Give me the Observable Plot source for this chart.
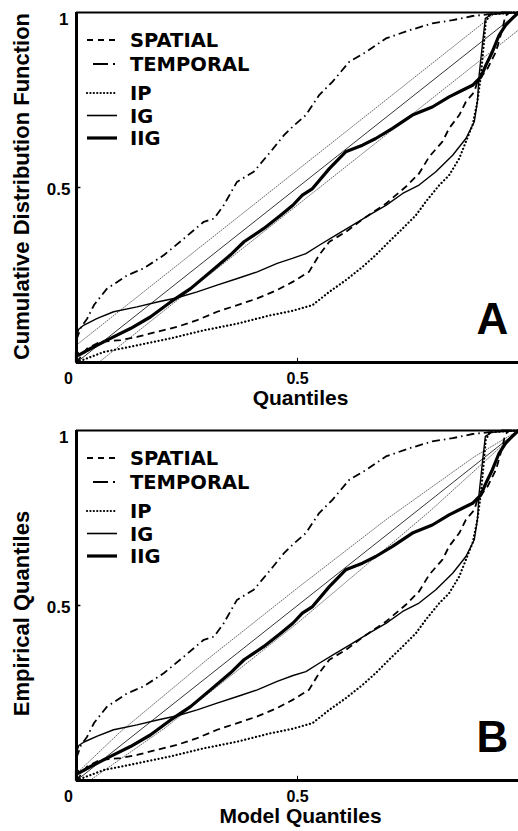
<!DOCTYPE html>
<html><head><meta charset="utf-8">
<script src="https://cdn.jsdelivr.net/npm/d3@7"></script>
<script src="https://cdn.jsdelivr.net/npm/@observablehq/plot@0.6"></script>
<style>body{margin:0;background:#fff;} #chart svg{display:block;}</style>
</head><body><div id="chart"></div>
<script>
// ---------- data ----------
const seriesNames = ["SPATIAL", "TEMPORAL", "IP", "IG", "IIG"];
const xTicks = [0, 0.5];
const yTicks = [0.5, 1];

const spatialA = [[0,0],[0.024,0.04],[0.054,0.059],[0.1,0.064],[0.137,0.073],[0.183,0.088],[0.228,0.102],[0.273,0.121],[0.318,0.145],[0.364,0.164],[0.409,0.183],[0.454,0.207],[0.49,0.231],[0.526,0.259],[0.549,0.307],[0.572,0.345],[0.609,0.373],[0.655,0.416],[0.7,0.454],[0.745,0.502],[0.775,0.54],[0.798,0.588],[0.828,0.631],[0.843,0.669],[0.866,0.707],[0.881,0.745],[0.9,0.773],[0.907,0.802],[0.93,0.84],[0.949,0.888],[0.964,0.954],[0.97,0.99],[0.98,1],[1,1]];
const temporalA = [[0,0.065],[0.01,0.1],[0.024,0.125],[0.04,0.165],[0.069,0.211],[0.115,0.249],[0.152,0.269],[0.198,0.307],[0.243,0.354],[0.288,0.402],[0.311,0.411],[0.333,0.449],[0.363,0.516],[0.401,0.545],[0.439,0.602],[0.469,0.649],[0.49,0.675],[0.519,0.707],[0.549,0.764],[0.579,0.802],[0.617,0.859],[0.655,0.887],[0.7,0.926],[0.753,0.949],[0.805,0.969],[0.851,0.978],[0.896,0.99],[0.926,0.994],[0.96,1],[1,1]];
const ipA = [[0,0],[0.02,0.01],[0.062,0.03],[0.137,0.049],[0.213,0.069],[0.288,0.092],[0.364,0.111],[0.439,0.135],[0.49,0.148],[0.534,0.164],[0.572,0.202],[0.609,0.235],[0.647,0.273],[0.677,0.307],[0.707,0.345],[0.738,0.383],[0.768,0.421],[0.79,0.459],[0.821,0.507],[0.843,0.535],[0.866,0.583],[0.881,0.631],[0.896,0.678],[0.907,0.745],[0.915,0.821],[0.922,0.916],[0.926,0.973],[0.935,0.995],[1,1]];
const igA = [[0,0.075],[0.005,0.095],[0.017,0.107],[0.047,0.126],[0.084,0.145],[0.137,0.159],[0.183,0.173],[0.228,0.185],[0.273,0.202],[0.318,0.221],[0.364,0.24],[0.409,0.259],[0.454,0.283],[0.49,0.298],[0.519,0.311],[0.549,0.335],[0.587,0.364],[0.624,0.392],[0.662,0.421],[0.7,0.449],[0.738,0.483],[0.775,0.507],[0.813,0.545],[0.851,0.592],[0.881,0.64],[0.9,0.688],[0.907,0.745],[0.911,0.821],[0.919,0.916],[0.925,0.983],[0.94,0.995],[1,1]];
const iigA = [[0,0],[0,0.03],[0.005,0.021],[0.032,0.04],[0.077,0.069],[0.122,0.097],[0.167,0.13],[0.213,0.173],[0.258,0.211],[0.303,0.259],[0.348,0.307],[0.379,0.345],[0.424,0.383],[0.462,0.421],[0.49,0.45],[0.511,0.478],[0.534,0.497],[0.572,0.554],[0.609,0.602],[0.647,0.621],[0.677,0.64],[0.715,0.669],[0.76,0.707],[0.805,0.73],[0.843,0.759],[0.873,0.778],[0.896,0.792],[0.915,0.816],[0.926,0.849],[0.941,0.888],[0.956,0.935],[0.971,0.964],[0.986,0.983],[1,1]];

const spatialB = spatialA;
const temporalB = temporalA;
const ipB = ipA;
const igB = [[0,0.08],[0.005,0.1],[0.017,0.11],[0.047,0.127],[0.084,0.145],[0.137,0.159],[0.183,0.173],[0.228,0.185],[0.273,0.202],[0.318,0.221],[0.364,0.24],[0.409,0.259],[0.454,0.283],[0.49,0.3],[0.519,0.311],[0.549,0.335],[0.587,0.364],[0.624,0.392],[0.662,0.421],[0.7,0.449],[0.738,0.483],[0.775,0.507],[0.813,0.545],[0.851,0.592],[0.881,0.64],[0.9,0.688],[0.907,0.745],[0.911,0.821],[0.919,0.916],[0.925,0.983],[0.94,0.995],[1,1]];
const iigB = iigA;

const diagonal = [[0,0],[1,1]];
const upperA = [[0,0.05],[0.95,1]];
const lowerA = [[0.05,0],[1,0.95]];
const upperB = [[0,0.02],[0.1,0.14],[0.3,0.35],[0.5,0.55],[0.7,0.745],[0.9,0.925],[0.96,0.97],[1,1]];
const lowerB = [[0.03,0],[0.2,0.15],[0.5,0.45],[0.8,0.77],[0.97,0.965],[1,1]];

// ---------- styles ----------
const lineStyle = {
  SPATIAL:  {strokeWidth: 1.8, strokeDasharray: "7,4.5", strokeLinecap: "butt"},
  TEMPORAL: {strokeWidth: 1.8, strokeDasharray: "8,4,1.5,4", strokeLinecap: "butt"},
  IP:       {strokeWidth: 2.2, strokeDasharray: "0.1,3.6", strokeLinecap: "round"},
  IG:       {strokeWidth: 1.4, strokeDasharray: null, strokeLinecap: "butt"},
  IIG:      {strokeWidth: 3.2, strokeDasharray: null, strokeLinecap: "butt"}
};
const titleFont = "'Liberation Sans', Arial, sans-serif";
const legendFont = "'DejaVu Sans', sans-serif";

function legendMark(marginLeft, marginTop) {
  const rows = [28, 52, 81, 103.5, 126];
  return () => {
    const g = d3.create("svg:g").attr("text-anchor", "start");
    seriesNames.forEach((name, i) => {
      const y = marginTop + rows[i];
      const st = lineStyle[name];
      const x1 = name === "TEMPORAL" ? marginLeft + 17 : marginLeft + 11;
      const ln = g.append("line")
        .attr("x1", x1).attr("x2", marginLeft + 41).attr("y1", y).attr("y2", y)
        .attr("stroke", "black").attr("stroke-width", st.strokeWidth)
        .attr("stroke-linecap", st.strokeLinecap);
      if (name === "TEMPORAL") ln.attr("stroke-dasharray", "15,5,2,10");
      else if (name === "SPATIAL") ln.attr("stroke-dasharray", "6,5");
      else if (st.strokeDasharray) ln.attr("stroke-dasharray", "0.1,3.3");
      if (name === "IG") ln.attr("stroke-width", 1.6);
      g.append("text").attr("x", marginLeft + 54).attr("y", y + 7)
        .attr("text-anchor", "start")
        .attr("font-family", legendFont).attr("font-weight", "bold")
        .attr("font-size", 19.5).attr("fill", "black").text(name);
    });
    return g.node();
  };
}

function panel({height, marginTop, marginBottom, letter, xTitle, yTitle, curves, upper, lower, yTitleDy}) {
  const marginLeft = 76;
  const curveMarks = seriesNames.map((name, i) =>
    Plot.line(curves[i], {x: d => d[0], y: d => d[1], stroke: "black",
      strokeWidth: lineStyle[name].strokeWidth,
      strokeDasharray: lineStyle[name].strokeDasharray,
      strokeLinecap: lineStyle[name].strokeLinecap,
      strokeLinejoin: "round"}));
  return Plot.plot({
    width: 518, height, marginLeft, marginRight: 0, marginTop, marginBottom,
    x: {domain: [0, 1], axis: null},
    y: {domain: [0, 1], axis: null},
    style: {background: "white", overflow: "visible"},
    marks: [
      Plot.line(upper, {x: d => d[0], y: d => d[1], stroke: "#444", strokeWidth: 0.8, strokeDasharray: "1,1.6"}),
      Plot.line(lower, {x: d => d[0], y: d => d[1], stroke: "#444", strokeWidth: 0.8, strokeDasharray: "1,1.6"}),
      Plot.line(diagonal, {x: d => d[0], y: d => d[1], stroke: "black", strokeWidth: 0.8}),
      ...curveMarks,
      Plot.ruleY([1], {stroke: "black", strokeWidth: 2}),
      Plot.ruleY([0], {stroke: "black", strokeWidth: 3}),
      Plot.ruleX([0], {stroke: "black", strokeWidth: 3}),
      Plot.ruleX([0.5], {y1: 0, y2: 0.012, stroke: "black", strokeWidth: 1}),
      Plot.ruleY([0.5], {x1: 0, x2: 0.01, stroke: "black", strokeWidth: 1.5}),
      // tick labels
      Plot.text([xTicks[0]], {x: d => d, y: 0, text: d => String(d), dx: -8, dy: 16,
        fontFamily: titleFont, fontWeight: "bold", fontSize: 16, textAnchor: "middle"}),
      Plot.text([xTicks[1]], {x: d => d, y: 0, text: d => String(d), dy: 16,
        fontFamily: titleFont, fontWeight: "bold", fontSize: 16, textAnchor: "middle"}),
      Plot.text([yTicks[0]], {x: 0, y: d => d, text: d => String(d), dx: -6, dy: 2,
        fontFamily: titleFont, fontWeight: "bold", fontSize: 17, textAnchor: "end"}),
      Plot.text([yTicks[1]], {x: 0, y: d => d, text: d => String(d), dx: -8, dy: 7.5,
        fontFamily: titleFont, fontWeight: "bold", fontSize: 17, textAnchor: "end"}),
      // axis titles
      Plot.text([xTitle], {frameAnchor: "bottom", text: d => d, dx: 3, dy: 42,
        fontFamily: titleFont, fontWeight: "bold", fontSize: 21, textAnchor: "middle"}),
      Plot.text([yTitle], {frameAnchor: "left", text: d => d, dx: -55, dy: yTitleDy, rotate: -90,
        fontFamily: titleFont, fontWeight: "bold", fontSize: 22, textAnchor: "middle"}),
      // panel letter
      Plot.text([letter], {frameAnchor: "bottom-right", text: d => d, dx: -26, dy: -29,
        fontFamily: titleFont, fontWeight: "bold", fontSize: 44, textAnchor: "middle"}),
      legendMark(marginLeft, marginTop)
    ]
  });
}

const chart = document.getElementById("chart");
chart.append(panel({height: 415, marginTop: 12, marginBottom: 53, letter: "A",
  xTitle: "Quantiles", yTitle: "Cumulative Distribution Function", yTitleDy: -1,
  curves: [spatialA, temporalA, ipA, igA, iigA], upper: upperA, lower: lowerA}));
chart.append(panel({height: 416, marginTop: 15, marginBottom: 51, letter: "B",
  xTitle: "Model Quantiles", yTitle: "Empirical Quantiles", yTitleDy: 8,
  curves: [spatialB, temporalB, ipB, igB, iigB], upper: upperB, lower: lowerB}));
</script>
</body></html>
